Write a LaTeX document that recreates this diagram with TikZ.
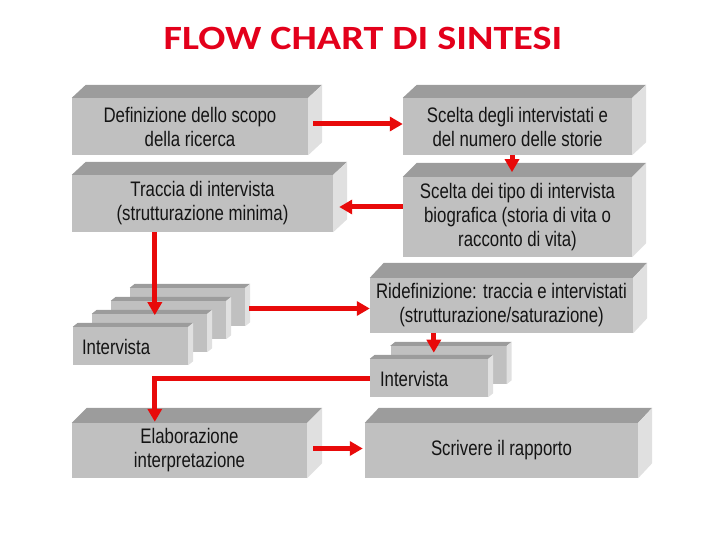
\documentclass[tikz,border=0pt]{standalone}
\usepackage{fontspec}
\setmainfont{Liberation Sans}[FakeStretch=0.8]
\newfontfamily\titlefont{Carlito}[FakeStretch=1.18]
\usetikzlibrary{arrows.meta,calc}
\definecolor{frontc}{HTML}{C0C0C0}
\definecolor{topc}{HTML}{9C9C9C}
\definecolor{sidec}{HTML}{E0E0E0}
\definecolor{arrc}{HTML}{E80A0A}
\definecolor{titc}{HTML}{E3001B}
\definecolor{txtc}{HTML}{141414}
\newcommand\faces[3]{%
  \fill[topc] (#1.north west) -- ++(#2,-#3) -- ($(#1.north east)+(#2,-#3)$) -- (#1.north east) -- cycle;
  \fill[sidec] (#1.north east) -- ++(#2,-#3) -- ($(#1.south east)+(#2,-#3)$) -- (#1.south east) -- cycle;}
\tikzset{
  frontbox/.style={rectangle, fill=frontc, inner sep=0pt, align=center, text=txtc,
    font=\fontsize{21}{24}\selectfont},
  lbl/.style={anchor=west, inner sep=0pt, text=txtc, font=\fontsize{21}{24}\selectfont},
  arr/.style={draw=arrc, line width=5pt, -{Triangle[length=13pt,width=14pt]}}
}
\begin{document}
\begin{tikzpicture}[x=1pt,y=-1pt]
\useasboundingbox (0,0) rectangle (720,540);
\node[text=titc, font=\titlefont\bfseries\fontsize{34}{36}\selectfont, inner sep=0pt] (title) at (363,38) {FLOW CHART DI SINTESI};

% big boxes
\node[frontbox, minimum width=236pt, minimum height=57pt] (B1) at (190,126.5) {Definizione dello scopo\\della ricerca};
\faces{B1}{14}{13}
\node[frontbox, minimum width=261pt, minimum height=57pt] (B2) at (202.5,203.5) {Traccia di intervista\\(strutturazione minima)};
\faces{B2}{14}{13}
\node[frontbox, minimum width=229pt, minimum height=57pt] (B3) at (517.5,126.5) {Scelta degli intervistati e\\del numero delle storie};
\faces{B3}{14}{13}
\node[frontbox, minimum width=229pt, minimum height=80pt] (B4) at (517.5,217) {Scelta dei tipo di intervista\\biografica (storia di vita o\\racconto di vita)};
\faces{B4}{14}{14}
\node[frontbox, minimum width=263pt, minimum height=55pt] (B5) at (501.5,305.5) {Ridefinizione: traccia e intervistati\\(strutturazione/saturazione)};
\faces{B5}{14}{15}
\node[frontbox, minimum width=235pt, minimum height=55pt] (E) at (189.5,450.5) {Elaborazione\\interpretazione};
\faces{E}{15}{15}
\node[frontbox, minimum width=273pt, minimum height=55pt] (W) at (501.5,450.5) {Scrivere il rapporto};
\faces{W}{14}{15}

% left stack
\node[frontbox, minimum width=115pt, minimum height=38pt] (S4) at (187.5,307) {};
\faces{S4}{5}{4}
\node[frontbox, minimum width=115pt, minimum height=38pt] (S3) at (168.5,320) {};
\faces{S3}{5}{4}
\node[frontbox, minimum width=115pt, minimum height=38pt] (S2) at (149.5,333) {};
\faces{S2}{5}{4}
\node[frontbox, minimum width=115pt, minimum height=38pt] (S1) at (130.5,346) {};
\faces{S1}{5}{4}
\node[lbl] (S1t) at ($(S1.west)+(9,1)$) {Intervista};

% right stack
\node[frontbox, minimum width=116pt, minimum height=38pt] (R2) at (448.5,365) {};
\faces{R2}{5}{4}
\node[frontbox, minimum width=118pt, minimum height=38pt] (R1) at (429,378) {};
\faces{R1}{5}{4}
\node[lbl] (R1t) at ($(R1.west)+(10,1)$) {Intervista};

% arrows
\draw[arr] ($(B1.east)+(5,-2.5)$) coordinate (a1) -- (B3.west |- a1);
\draw[arr] ($(B4.west)+(0,-10)$) coordinate (a2) -- ($(B2.east |- a2)+(6,0)$);
\draw[arr] ($(B3.south)+(-5.5,0)$) -- ++(0,17);
\draw[arr] ($(B2.south west)+(83,0)$) -- ++(0,83);
\draw[arr] ($(S4.east)+(4,1.5)$) coordinate (a5) -- (B5.west |- a5);
\draw[arr] ($(B5.south west)+(64,0)$) -- ++(0,19.5);
\draw[arr] (R1.west) -| ($(E.north west)+(83,-1)$);
\draw[arr] ($(E.east)+(6,-2)$) coordinate (a8) -- ($(W.west |- a8)+(-2,0)$);
\end{tikzpicture}
\end{document}
